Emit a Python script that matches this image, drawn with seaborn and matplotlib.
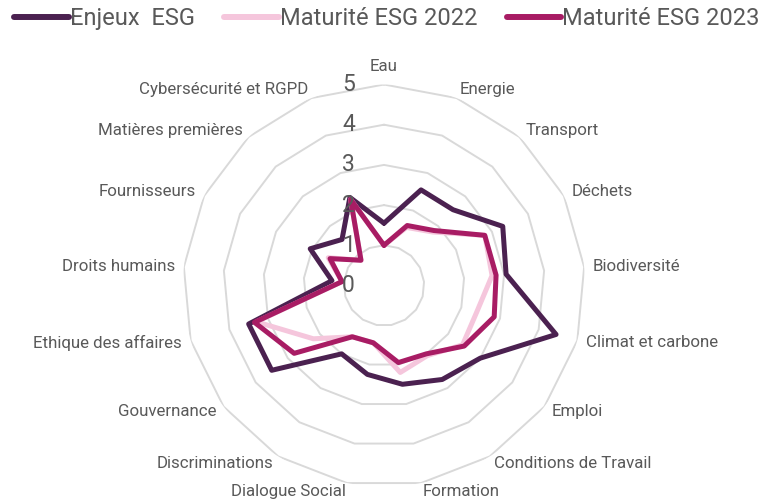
import numpy as np
import pandas as pd
import matplotlib
matplotlib.use("Agg")
import matplotlib.pyplot as plt
import seaborn as sns
from matplotlib.lines import Line2D

# données
categories = ['Eau', 'Energie', 'Transport', 'Déchets', 'Biodiversité',
              'Climat et carbone', 'Emploi', 'Conditions de Travail', 'Formation',
              'Dialogue Social', 'Discriminations', 'Gouvernance',
              'Ethique des affaires', 'Droits humains', 'Fournisseurs',
              'Matières premières', 'Cybersécurité et RGPD']
enjeux = [1.55, 2.55, 2.55, 3.3, 3.05, 4.45, 3.0, 2.75, 2.5, 2.25, 2.0, 3.5, 3.5, 1.3, 2.05, 1.55, 2.35]
maturite_2022 = [1.0, 1.55, 1.8, 2.8, 2.7, 2.4, 2.45, 2.05, 2.2, 1.45, 1.5, 2.2, 3.3, 1.05, 1.55, 0.85, 2.3]
maturite_2023 = [1.0, 1.6, 1.85, 2.8, 2.8, 2.85, 2.5, 2.0, 1.95, 1.45, 1.5, 2.8, 3.35, 1.05, 1.5, 0.85, 2.3]
series_names = ['Enjeux  ESG', 'Maturité ESG 2022', 'Maturité ESG 2023']
colors = ['#4B2150', '#F5C6DC', '#A81C64']
ticks = [0, 1, 2, 3, 4, 5]

sns.set_theme(style="white")
plt.rcParams['font.family'] = ['Roboto', 'DejaVu Sans']
gris = '#595959'

n = len(categories)
angles = np.linspace(0, 2 * np.pi, n, endpoint=False)
closed = np.append(angles, 2 * np.pi)

rows = []
for name, vals in zip(series_names, [enjeux, maturite_2022, maturite_2023]):
    v = list(vals) + [vals[0]]
    for t, r in zip(closed, v):
        rows.append({'theta': t, 'valeur': r, 'serie': name})
df = pd.DataFrame(rows)

fig = plt.figure(figsize=(7.59, 4.99), dpi=100)
cx, cy, R = 384 / 759, 1 - 285.5 / 499, 201
w, h = R / 759, R / 499
ax = fig.add_axes([cx - w, cy - h, 2 * w, 2 * h], projection='polar')
ax.set_theta_offset(np.pi / 2)
ax.set_theta_direction(-1)
ax.set_ylim(0, 5)
ax.grid(False)
ax.spines['polar'].set_visible(False)
ax.set_xticks([])
ax.set_yticks([])
ax.set_facecolor('white')

# grille polygonale
for r in ticks[1:]:
    ax.plot(closed, [r] * len(closed), color='#D9D9D9', lw=1.4, zorder=1)

sns.lineplot(data=df, x='theta', y='valeur', hue='serie', palette=colors,
             hue_order=series_names, sort=False, estimator=None, lw=3.6,
             ax=ax, legend=False, zorder=3)
for line in ax.lines[-3:]:
    line.set_solid_joinstyle('round')
    line.set_solid_capstyle('round')
ax.set_xlabel('')
ax.set_ylabel('')
ax.set_ylim(0, 5)

# étiquettes des catégories
for t, lab in zip(angles, categories):
    s = np.sin(t)
    if abs(s) < 0.05:
        ax.text(t, 5.45, lab, ha='center', va='center', fontsize=12.2, color=gris)
    else:
        ha = 'left' if s > 0 else 'right'
        ax.text(t, 5.22, lab, ha=ha, va='center', fontsize=12.2, color=gris)

# valeurs de l'axe
for r in ticks:
    ax.annotate(str(r), xy=(0, r), xytext=(-21, 0), textcoords='offset points',
                ha='right', va='center', fontsize=16.5, color=gris, zorder=10)

handles = [Line2D([0], [0], color=c, lw=4.3, solid_capstyle='round') for c in colors]
fig.legend(handles, series_names, loc='center', bbox_to_anchor=(0.51, 0.962),
           ncol=3, frameon=False, fontsize=17, handlelength=2.3,
           handletextpad=0.05, columnspacing=1.25, labelcolor=gris)

fig.savefig('out.png', dpi=100)
